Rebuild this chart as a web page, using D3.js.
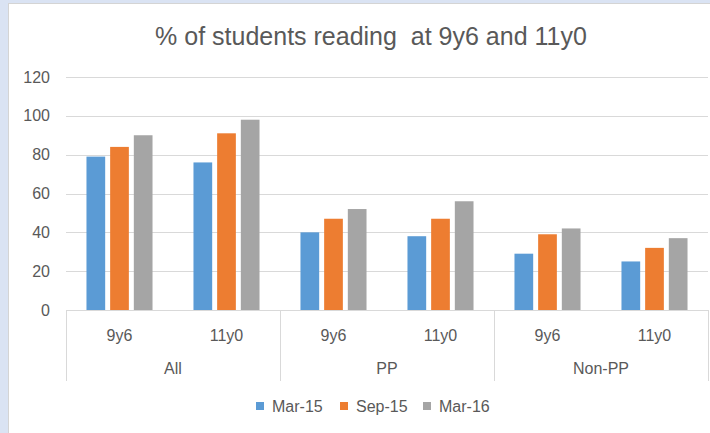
<!DOCTYPE html>
<html>
<head>
<meta charset="utf-8">
<script src="https://cdn.jsdelivr.net/npm/d3@7"></script>
<style>
  body { margin: 0; background: #dae3f3; }
  svg { display: block; }
  text { font-family: "Liberation Sans", Arial, sans-serif; fill: #595959; }
</style>
</head>
<body>
<div id="chart"></div>
<script>
// chart data
var groups = ["All", "PP", "Non-PP"];
var ages = ["9y6", "11y0"];
var seriesNames = ["Mar-15", "Sep-15", "Mar-16"];
var colors = ["#5b9bd5", "#ed7d31", "#a5a5a5"];
var mar15 = [79, 76, 40, 38, 29, 25];
var sep15 = [84, 91, 47, 47, 39, 32];
var mar16 = [90, 98, 52, 56, 42, 37];
var yTicks = [0, 20, 40, 60, 80, 100, 120];

var svgWidth = 710;
var svgHeight = 433;

var margin = { top: 77, bottom: 123, left: 66, right: 2 };
var width = svgWidth - margin.left - margin.right;
var height = svgHeight - margin.top - margin.bottom;

var svg = d3.select("#chart")
    .append("svg")
    .attr("width", svgWidth)
    .attr("height", svgHeight);

// white chart panel with a thin grey frame
svg.append("rect")
    .attr("x", 8.5)
    .attr("y", 3.5)
    .attr("width", svgWidth)
    .attr("height", svgHeight)
    .attr("fill", "#fff")
    .attr("stroke", "#d4d4d4");

svg.append("text")
    .attr("x", 371)
    .attr("y", 45)
    .attr("text-anchor", "middle")
    .style("font-size", "25px")
    .style("white-space", "pre")
    .text("% of students reading  at 9y6 and 11y0");

var chartGroup = svg.append("g")
    .attr("transform", `translate(${margin.left}, ${margin.top})`);

// build rows: one per group/age
var rows = [];
groups.forEach(function (g, gi) {
    ages.forEach(function (a, ai) {
        var i = gi * ages.length + ai;
        rows.push({ key: g + "|" + a, group: g, age: a, values: [mar15[i], sep15[i], mar16[i]] });
    });
});

var xScale = d3.scaleBand()
    .domain(rows.map(d => d.key))
    .range([0, width]);

var xInner = d3.scaleBand()
    .domain(seriesNames)
    .range([0, xScale.bandwidth()])
    .paddingInner(0.21)
    .paddingOuter(0.865);

var yScale = d3.scaleLinear()
    .domain([0, 120])
    .range([height, 0]);

// gridlines
chartGroup.append("g")
    .selectAll("line")
    .data(yTicks.slice(1))
    .enter()
    .append("line")
    .attr("x1", 0)
    .attr("x2", width)
    .attr("y1", d => Math.round(yScale(d)) + 0.5)
    .attr("y2", d => Math.round(yScale(d)) + 0.5)
    .attr("stroke", "#d9d9d9");

// y axis labels
var yAxis = d3.axisLeft(yScale).tickValues(yTicks).tickSize(0).tickPadding(16);
var yG = chartGroup.append("g").call(yAxis);
yG.select(".domain").remove();
yG.selectAll("text")
    .style("font-size", "16px")
    .style("font-family", "Liberation Sans, Arial, sans-serif")
    .attr("fill", "#595959");

// bars
var rowG = chartGroup.selectAll(".row")
    .data(rows)
    .enter()
    .append("g")
    .attr("transform", d => `translate(${xScale(d.key)}, 0)`);

rowG.selectAll("rect")
    .data(d => d.values.map((v, i) => ({ name: seriesNames[i], value: v, color: colors[i] })))
    .enter()
    .append("rect")
    .attr("x", d => xInner(d.name))
    .attr("width", xInner.bandwidth())
    .attr("y", d => yScale(d.value))
    .attr("height", d => height - yScale(d.value))
    .attr("fill", d => d.color);

// category axis line and group dividers
chartGroup.append("line")
    .attr("x1", 0).attr("x2", width)
    .attr("y1", height + 0.5).attr("y2", height + 0.5)
    .attr("stroke", "#d9d9d9");

var dividers = d3.range(groups.length + 1).map(i => i * ages.length * xScale.step());
chartGroup.selectAll(".divider")
    .data(dividers)
    .enter()
    .append("line")
    .attr("x1", d => Math.round(d) + 0.5)
    .attr("x2", d => Math.round(d) + 0.5)
    .attr("y1", height)
    .attr("y2", height + 71)
    .attr("stroke", "#d9d9d9");

// sub-category labels
chartGroup.selectAll(".age")
    .data(rows)
    .enter()
    .append("text")
    .attr("x", d => xScale(d.key) + xScale.bandwidth() / 2)
    .attr("y", height + 31)
    .attr("text-anchor", "middle")
    .style("font-size", "16px")
    .text(d => d.age);

// group labels
chartGroup.selectAll(".grp")
    .data(groups)
    .enter()
    .append("text")
    .attr("x", (d, i) => (i + 0.5) * ages.length * xScale.step())
    .attr("y", height + 64)
    .attr("text-anchor", "middle")
    .style("font-size", "16px")
    .text(d => d);

// legend
var legendX = [256, 340, 423];
var legend = svg.selectAll(".legend")
    .data(seriesNames)
    .enter()
    .append("g")
    .attr("transform", (d, i) => `translate(${legendX[i]}, 402)`);

legend.append("rect")
    .attr("width", 8)
    .attr("height", 8)
    .attr("fill", (d, i) => colors[i]);

legend.append("text")
    .attr("x", 16)
    .attr("y", 10)
    .style("font-size", "16px")
    .text(d => d);
</script>
</body>
</html>
